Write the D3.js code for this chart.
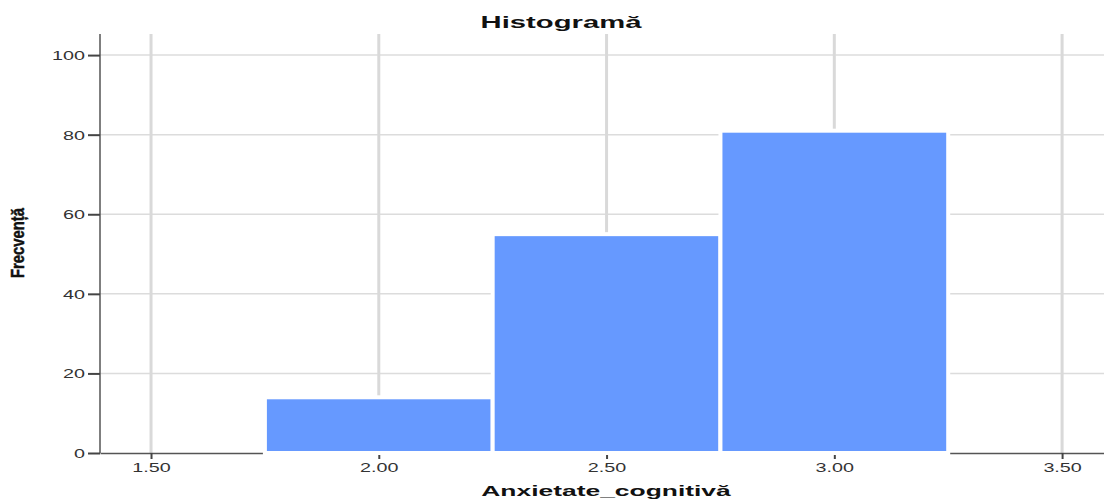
<!DOCTYPE html>
<html>
<head>
<meta charset="utf-8">
<script src="https://cdn.jsdelivr.net/npm/d3@7"></script>
<style>
  html, body { margin: 0; padding: 0; background: #fff; }
  svg { display: block; font-family: "Liberation Sans", Arial, sans-serif; }
</style>
</head>
<body>
<svg id="chart" width="1104" height="499"></svg>
<script>
// Data
const binStarts = [1.75, 2.25, 2.75];
const binEnds   = [2.25, 2.75, 3.25];
const counts    = [14, 55, 81];
const xTicks    = [1.5, 2.0, 2.5, 3.0, 3.5];
const yTicks    = [0, 20, 40, 60, 80, 100];
const title     = "Histogramă";
const xLabel    = "Anxietate_cognitivă";
const yLabel    = "Frecvență";

(function () {
const svg = d3.select("#chart");
const pLeft = 100, pRight = 1104, pTop = 34, pBottom = 453;

const x = d3.scaleLinear().domain([1.388, 3.592]).range([pLeft, pRight]);
const y = d3.scaleLinear().domain([0, 105.3]).range([pBottom, pTop]);

const SX = 1.58; // horizontal text stretch seen in the reference

// horizontal gridlines
svg.append("g").selectAll("line").data(yTicks.filter(d => d > 0)).join("line")
  .attr("x1", pLeft).attr("x2", pRight)
  .attr("y1", d => y(d)).attr("y2", d => y(d))
  .attr("stroke", "#dcdcdc").attr("stroke-width", 1.5);

// vertical gridlines
svg.append("g").selectAll("line").data(xTicks).join("line")
  .attr("x1", d => x(d)).attr("x2", d => x(d))
  .attr("y1", pTop).attr("y2", pBottom)
  .attr("stroke", "#d9d9d9").attr("stroke-width", 3);

// x axis
const xAxis = svg.append("g").attr("transform", `translate(0,${pBottom})`)
  .call(d3.axisBottom(x).tickValues(xTicks).tickFormat(d3.format(".2f")).tickSize(6).tickSizeOuter(0));
xAxis.select(".domain").attr("stroke", "#555").attr("stroke-width", 1.5);
xAxis.selectAll(".tick line").attr("stroke", "#444").attr("stroke-width", 2);
xAxis.selectAll(".tick text")
  .attr("y", 10).attr("dy", "0.71em")
  .attr("font-size", 12.5).attr("fill", "#333")
  .attr("transform", `scale(${SX},1)`);

// y axis
const yAxis = svg.append("g").attr("transform", `translate(${pLeft},0)`)
  .call(d3.axisLeft(y).tickValues(yTicks).tickFormat(d3.format("d")).tickSize(12).tickSizeOuter(0));
yAxis.select(".domain").attr("stroke", "#555").attr("stroke-width", 1.5)
  .attr("d", `M0,${pTop}V${pBottom}`);
yAxis.selectAll(".tick line").attr("stroke", "#444").attr("stroke-width", 2);
yAxis.selectAll(".tick text")
  .attr("x", -15 / SX).attr("dy", "0.36em")
  .attr("font-size", 12.5).attr("fill", "#333")
  .attr("transform", `scale(${SX},1)`);

// bars
svg.append("g").selectAll("rect").data(counts).join("rect")
  .attr("x", (d, i) => x(binStarts[i]))
  .attr("width", (d, i) => x(binEnds[i]) - x(binStarts[i]))
  .attr("y", d => y(d))
  .attr("height", d => y(0) - y(d))
  .attr("fill", "#6699ff")
  .attr("stroke", "#ffffff").attr("stroke-width", 4);

// title
svg.append("text")
  .attr("transform", `translate(561,28) scale(1.72,1)`)
  .attr("text-anchor", "middle")
  .attr("font-size", 17).attr("font-weight", "bold").attr("fill", "#111")
  .text(title);

// x label
svg.append("text")
  .attr("transform", `translate(606,496) scale(1.76,1)`)
  .attr("text-anchor", "middle")
  .attr("font-size", 15).attr("font-weight", "bold").attr("fill", "#111")
  .text(xLabel);

// y label (condensed, heavy)
svg.append("text")
  .attr("transform", `translate(24,243) rotate(-90) scale(0.78,1)`)
  .attr("text-anchor", "middle")
  .attr("font-size", 19).attr("font-weight", "bold").attr("fill", "#111")
  .attr("stroke", "#111").attr("stroke-width", 0.5)
  .text(yLabel);
})();
</script>
</body>
</html>
